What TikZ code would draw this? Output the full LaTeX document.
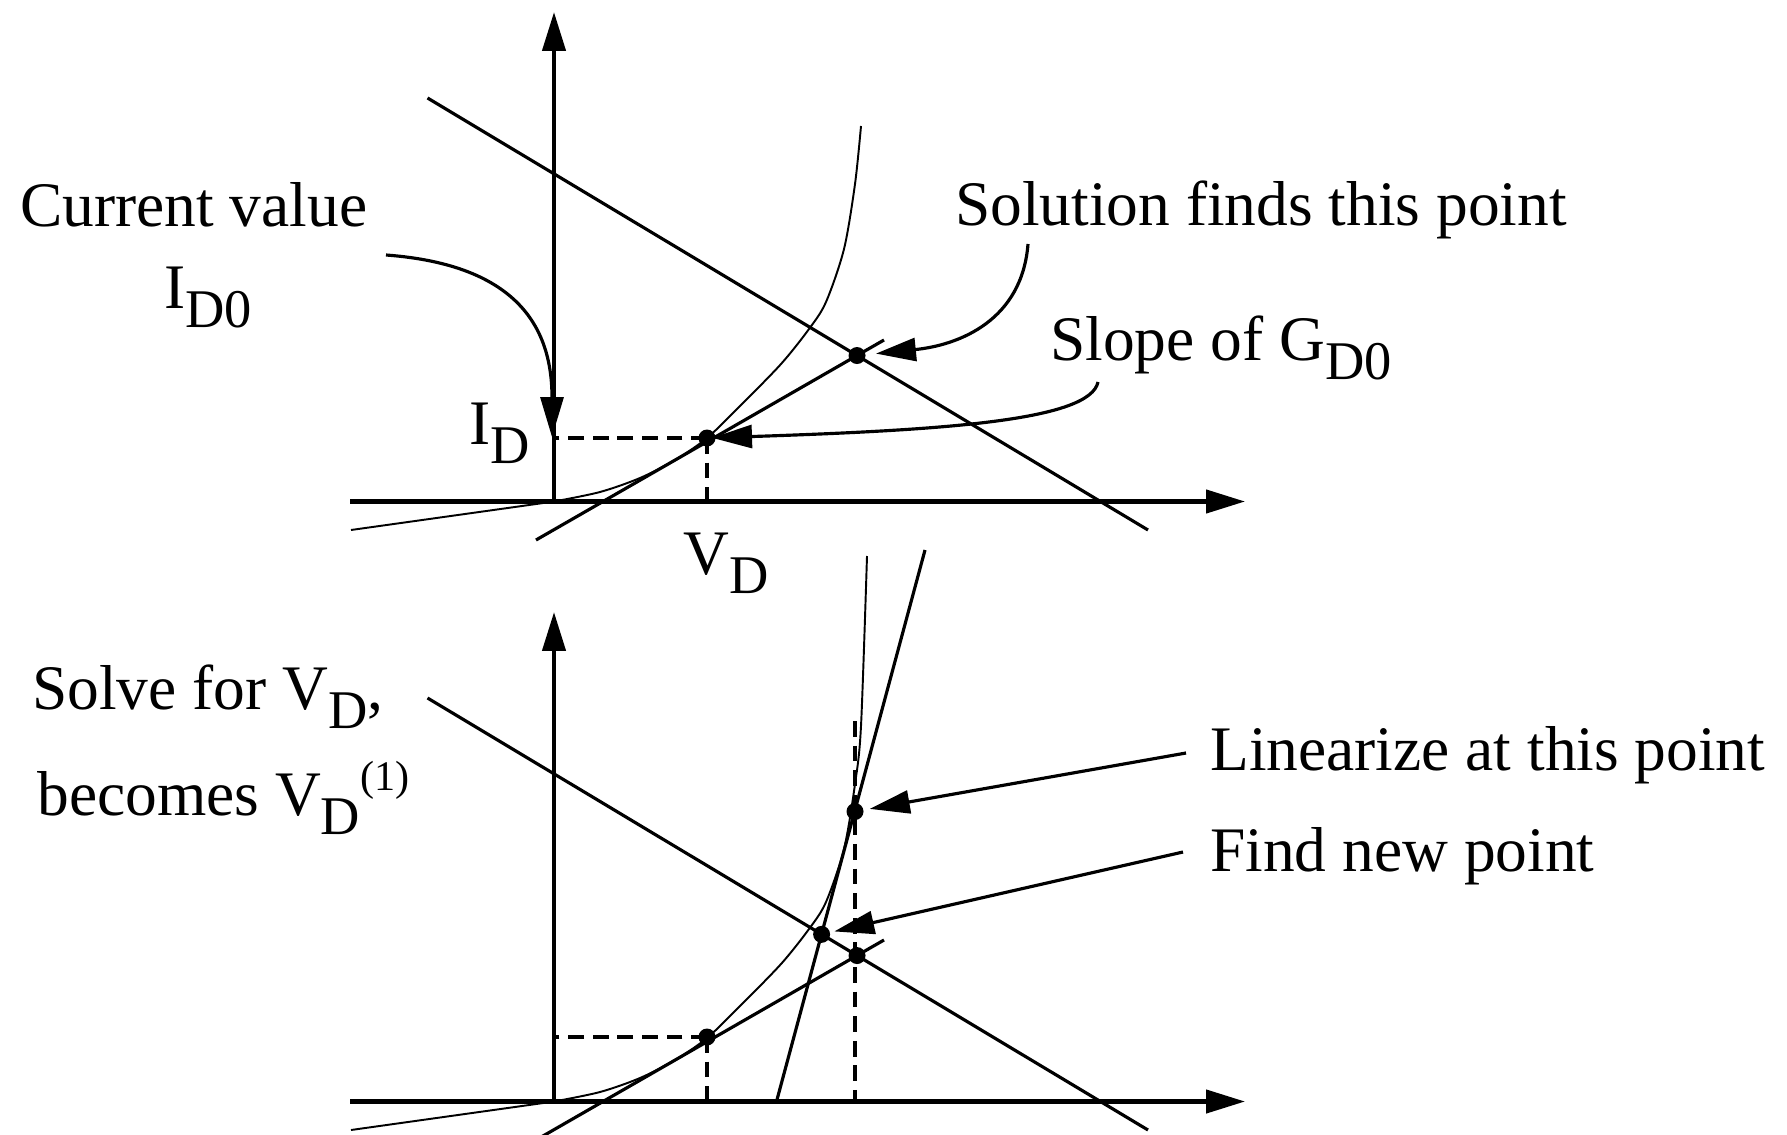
\documentclass[tikz,border=0pt]{standalone}
\usepackage{fontspec}
\setmainfont{Liberation Serif}
\usetikzlibrary{arrows.meta}
\newcommand{\lowsub}[1]{\raisebox{-0.3em}{\fontsize{31}{31}\selectfont #1}}
\newcommand{\highsup}[1]{\raisebox{0.38em}{\fontsize{24}{24}\selectfont #1}}

\begin{document}
\begin{tikzpicture}[
    x=0.02cm, y=-0.02cm,
    axis/.style={line width=2.5pt, -{Triangle[length=0.78cm,width=0.46cm]}},
    loadln/.style={line width=1.8pt},
    curve/.style={line width=1.1pt},
    guide/.style={line width=2.3pt, dash pattern=on 9pt off 5pt},
    pointer/.style={line width=1.8pt, -{Triangle[length=0.8cm,width=0.46cm]}},
    dot/.style={circle, fill, inner sep=0pt, minimum size=0.34cm},
    txt/.style={inner sep=0pt, font=\fontsize{36.1}{43}\selectfont}
  ]
    \clip (0,0) rectangle (1787,1135);

    \coordinate (oa) at (554,501.5);
    \coordinate (xla) at (350,501.5);
    \coordinate (xra) at (1245,501.5);
    \coordinate (yta) at (554,12);
    \coordinate (lla) at (427.5,98);
    \coordinate (lra) at (1148,530);
    \coordinate (tla) at (536,540);
    \coordinate (tra) at (884,340);
    \coordinate (tpa) at (707,438);
    \coordinate (sola) at (intersection of lla--lra and tla--tra);

    \draw[axis] (xla) -- (xra);
    \draw[axis] (oa) -- (yta);
    \draw[loadln] (lla) -- (lra);
    \draw[loadln] (tla) -- (tra);
    \draw[curve] (351,530) -- plot[smooth] coordinates {(554,501.5) (600,492) (640,478) (675,460) (707,438) (740,406) (781,364) (809,329) (826,302) (844,249) (855,184) (861,126)};
    \draw[guide] (tpa) -- (tpa -| oa);
    \draw[guide] (tpa) -- (tpa |- oa);
    \node[dot] (dta) at (tpa) {};
    \node[dot] (dsa) at (sola) {};

    \node[txt, anchor=base west] (cur) at (20,226) {Current value};
    \node[txt, anchor=base west] (idz) at (164,308) {I\lowsub{D0}};
    \node[txt, anchor=base east] (ida) at (530,444) {I\lowsub{D}};
    \node[txt, anchor=base west] (vda) at (683,574) {V\lowsub{D}};
    \node[txt, anchor=base west] (sol) at (955,225) {Solution finds this point};
    \node[txt, anchor=base west] (slp) at (1050,360) {Slope of G\lowsub{D0}};

    \coordinate (cvs) at (386,255);
    \coordinate (cve) at (552,437);
    \coordinate (sfs) at (1028,244);
    \coordinate (sgs) at (1098,382);
    \draw[pointer] (cvs) .. controls +(134,10) and +(0,-107) .. (cve);
    \draw[pointer, shorten >=0.38cm] (sfs) .. controls (1022,320) and (960,345) .. (sola);
    \draw[pointer, shorten >=0.1cm] (sgs) .. controls (1090,420) and (950,430) .. (tpa);

    \coordinate (ob) at (554,1101.5);
    \coordinate (xlb) at (350,1101.5);
    \coordinate (xrb) at (1245,1101.5);
    \coordinate (ytb) at (554,612);
    \coordinate (llb) at (427.5,698);
    \coordinate (lrb) at (1148,1130);
    \coordinate (tlb) at (536,1140);
    \coordinate (trb) at (884,940);
    \coordinate (slb) at (776.5,1101.5);
    \coordinate (srb) at (925,550);
    \coordinate (tpb) at (707,1037);
    \coordinate (linb) at (855,811.5);
    \coordinate (vtop) at (855,721);
    \coordinate (solb) at (intersection of llb--lrb and tlb--trb);
    \coordinate (newb) at (intersection of llb--lrb and slb--srb);

    \draw[axis] (xlb) -- (xrb);
    \draw[axis] (ob) -- (ytb);
    \draw[loadln] (llb) -- (lrb);
    \draw[loadln] (tlb) -- (trb);
    \draw[loadln] (slb) -- (srb);
    \draw[curve] (351,1130) -- plot[smooth] coordinates {(554,1101.5) (600,1092) (640,1078) (675,1060) (707,1038) (740,1006) (781,964) (809,929) (826,902) (844,849) (855,784) (861,726) (867,556)};
    \draw[guide] (tpb) -- (tpb -| ob);
    \draw[guide] (tpb) -- (tpb |- ob);
    \draw[guide] (vtop) -- (vtop |- ob);
    \node[dot] (dtb) at (tpb) {};
    \node[dot] (dsb) at (solb) {};
    \node[dot] (dnb) at (newb) {};
    \node[dot] (dlb) at (linb) {};

    \node[txt, anchor=base west] (slv) at (32,709) {Solve for V\lowsub{D},};
    \node[txt, anchor=base west] (bec) at (37,815) {becomes V\lowsub{D}\highsup{(1)}};
    \node[txt, anchor=base west] (lin) at (1210,770) {Linearize at this point};
    \node[txt, anchor=base west] (fnp) at (1210,871) {Find new point};

    \coordinate (lis) at (1186,753);
    \coordinate (fns) at (1183,852);
    \draw[pointer, shorten >=0.3cm] (lis) -- (linb);
    \draw[pointer, shorten >=0.26cm] (fns) -- (newb);
\end{tikzpicture}
\end{document}
